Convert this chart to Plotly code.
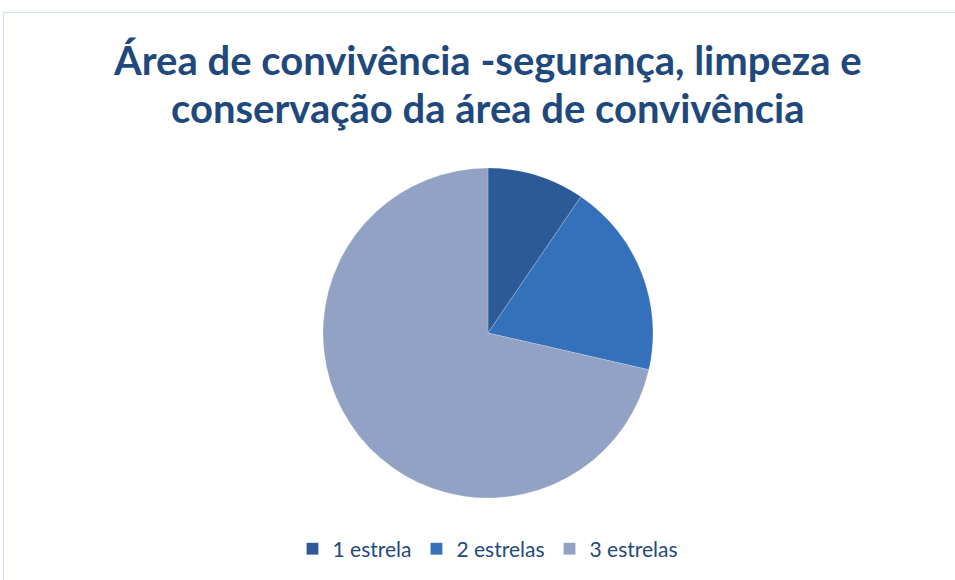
import plotly.graph_objects as go

# Ratings for the common area (safety, cleanliness, upkeep)
categorias = ["1 estrela", "2 estrelas", "3 estrelas"]
respostas = [2, 4, 15]
cores = ["#2B5A97", "#3571BB", "#91A2C4"]

titulo_linhas = [
    "Área de convivência -segurança, limpeza e",
    "conservação da área de convivência",
]

W, H = 955, 580
cx, cy, r = 488, 333, 165

fig = go.Figure(
    go.Pie(
        labels=categorias,
        values=respostas,
        sort=False,
        direction="clockwise",
        rotation=0,
        textinfo="none",
        hoverinfo="label+value+percent",
        marker=dict(colors=cores, line=dict(color="rgba(255,255,255,0.35)", width=0.6)),
        domain=dict(
            x=[(cx - r) / W, (cx + r) / W],
            y=[1 - (cy + r) / H, 1 - (cy - r) / H],
        ),
    )
)

# Two-line bold heading, one annotation per line for precise spacing
title_ann = []
for linha, ymid in zip(titulo_linhas, [60, 108]):
    title_ann.append(
        dict(
            text=f"<b>{linha}</b>",
            xref="paper",
            yref="paper",
            x=487.5 / W,
            y=1 - ymid / H,
            xanchor="center",
            yanchor="middle",
            showarrow=False,
            font=dict(family="Lato", size=40, color="#1F497D"),
        )
    )

fig.update_layout(
    width=W,
    height=H,
    margin=dict(l=0, r=0, t=0, b=0),
    paper_bgcolor="white",
    plot_bgcolor="white",
    annotations=title_ann,
    legend=dict(
        orientation="h",
        x=488 / W,
        xanchor="center",
        y=1 - 549 / H,
        yanchor="middle",
        font=dict(family="Lato", size=21, color="#244A7C"),
        itemwidth=30,
    ),
    shapes=[
        dict(
            type="rect",
            xref="paper",
            yref="paper",
            x0=3.5 / W,
            x1=1.02,
            y0=-0.02,
            y1=1 - 12.5 / H,
            line=dict(color="#C9DCF0", width=1.2),
            fillcolor="rgba(0,0,0,0)",
            layer="below",
        )
    ],
)

fig.write_html("out.html")
